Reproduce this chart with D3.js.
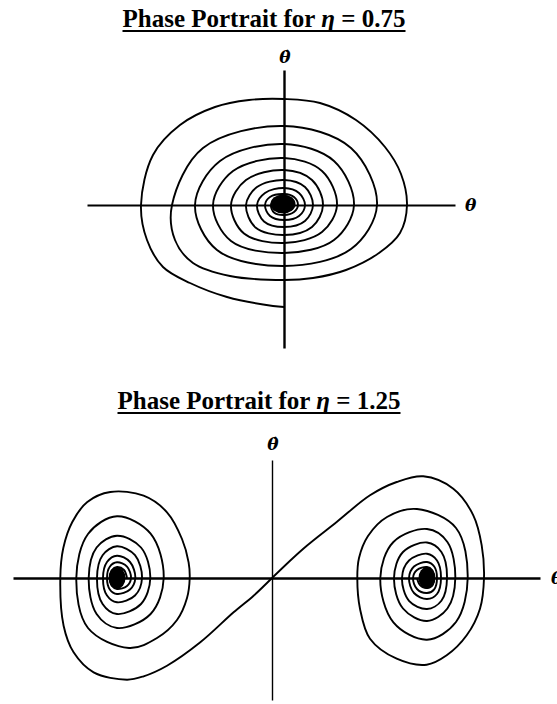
<!DOCTYPE html>
<html>
<head>
<meta charset="utf-8">
<script src="https://cdn.jsdelivr.net/npm/d3@7"></script>
<style>
  html, body { margin: 0; padding: 0; background: #fff; }
  svg { display: block; }
  .title { font-family: "Liberation Serif", "Times New Roman", serif; font-weight: bold; font-size: 25px; fill: #000; }
  .axlabel { font-family: "DejaVu Serif", serif; font-weight: bold; font-style: italic; font-size: 17px; fill: #000; }
</style>
</head>
<body>
<svg id="chart" width="557" height="704"></svg>
<script>
// Parameter value of each panel and axis symbols
const etaValues = ["0.75", "1.25"];
const thetaSymbol = "\u03B8";
const thetaDotSymbol = "\u03B8\u0307";

// Axis extents (theta, thetaDot) for each panel
const topAxisTheta = [-1.97, 1.71];
const topAxisThetaDot = [-1.43, 1.35];
const botAxisTheta = [-2.59, 2.68];
const botAxisThetaDot = [-1.22, 1.18];

// eta = 0.75 : one trajectory spiralling into the origin [theta, thetaDot]
const spiralEta075 = [
  [0,-1.02],[-0.11,-1.01],[-0.57,-0.92],[-0.94,-0.78],[-1.21,-0.62],[-1.37,-0.35],[-1.43,0],
  [-1.31,0.50],[-1.04,0.80],[-0.69,0.98],[-0.35,1.05],[0,1.06],
  [0.36,1.02],[0.72,0.85],[1.01,0.58],[1.17,0.31],[1.23,0],
  [1.16,-0.28],[0.95,-0.48],[0.62,-0.65],[0.29,-0.73],[0,-0.75],
  [-0.54,-0.71],[-0.91,-0.58],[-1.09,-0.35],[-1.12,0],
  [-0.81,0.57],[0,0.79],[0.67,0.57],[0.93,0],
  [0.67,-0.44],[0,-0.61],[-0.67,-0.45],[-0.89,0],
  [-0.64,0.44],[0,0.61],[0.50,0.44],[0.70,0],
  [0.50,-0.35],[0,-0.48],[-0.53,-0.36],[-0.71,0],
  [-0.51,0.34],[0,0.47],[0.38,0.34],[0.53,0],
  [0.38,-0.27],[0,-0.38],[-0.40,-0.285],[-0.53,0],
  [-0.38,0.25],[0,0.35],[0.28,0.25],[0.39,0],
  [0.28,-0.22],[0,-0.30],[-0.285,-0.225],[-0.38,0],
  [-0.27,0.18],[0,0.25],[0.21,0.18],[0.29,0],
  [0.21,-0.16],[0,-0.22],[-0.20,-0.165],[-0.27,0],
  [-0.19,0.12],[0,0.17],[0.15,0.12],[0.21,0],
  [0.15,-0.11],[0,-0.15],[-0.14,-0.11],[-0.19,0],
  [-0.14,0.08],[0,0.11],[0.10,0.08],[0.14,0],
  [0.10,-0.07],[0,-0.10],[-0.10,-0.075],[-0.13,0],
  [-0.09,0.05],[0,0.07],[0.065,0.05],[0.09,0]
];

// eta = 1.25 : branch leaving the saddle to the left and winding into the left focus
const spiralEta125Left = [
  [0,0],[-0.184,-0.177],[-0.384,-0.343],[-0.717,-0.643],[-1.05,-0.877],[-1.284,-0.983],
  [-1.45,-1.017],[-1.784,-0.943],[-1.984,-0.743],[-2.084,-0.477],[-2.117,0],
  [-2.087,0.30],[-1.997,0.56],[-1.847,0.76],[-1.617,0.86],[-1.284,0.823],
  [-1.05,0.657],[-0.90,0.39],[-0.834,0.157],[-0.823,0],
  [-0.85,-0.20],[-0.95,-0.42],[-1.15,-0.60],[-1.43,-0.70],
  [-1.84,-0.50],[-1.957,0],
  [-1.84,0.44],[-1.55,0.617],[-1.214,0.444],[-1.083,0],
  [-1.214,-0.36],[-1.55,-0.50],[-1.754,-0.36],[-1.833,0],
  [-1.754,0.305],[-1.55,0.423],[-1.31,0.305],[-1.217,0],
  [-1.31,-0.26],[-1.55,-0.36],[-1.694,-0.26],[-1.75,0],
  [-1.694,0.228],[-1.55,0.317],[-1.37,0.228],[-1.30,0],
  [-1.37,-0.175],[-1.55,-0.243],[-1.65,-0.175],[-1.69,0],
  [-1.65,0.16],[-1.55,0.223],[-1.42,0.16],[-1.367,0],
  [-1.42,-0.115],[-1.55,-0.16],[-1.622,-0.115],[-1.65,0],
  [-1.622,0.113],[-1.55,0.157],[-1.45,0.113],[-1.41,0],
  [-1.45,-0.08],[-1.55,-0.11],[-1.60,-0.08],[-1.62,0],
  [-1.60,0.08],[-1.55,0.11],[-1.48,0.08],[-1.45,0]
];

// eta = 1.25 : branch leaving the saddle to the right and winding into the right focus
const spiralEta125Right = [
  [0,0],[0.313,0.293],[0.647,0.56],[0.98,0.827],[1.247,0.96],[1.513,1.017],
  [1.813,0.893],[2.013,0.627],[2.097,0.327],[2.12,0],
  [2.08,-0.307],[1.947,-0.573],[1.747,-0.773],[1.547,-0.867],
  [1.247,-0.807],[0.98,-0.607],[0.88,-0.307],[0.853,0],
  [0.87,0.20],[0.96,0.42],[1.15,0.61],[1.45,0.69],
  [1.84,0.50],[1.957,0],
  [1.84,-0.44],[1.55,-0.617],[1.214,-0.444],[1.083,0],
  [1.214,0.36],[1.55,0.49],[1.754,0.36],[1.833,0],
  [1.754,-0.305],[1.55,-0.43],[1.31,-0.305],[1.22,0],
  [1.31,0.26],[1.55,0.355],[1.694,0.26],[1.75,0],
  [1.694,-0.228],[1.55,-0.31],[1.37,-0.228],[1.30,0],
  [1.37,0.175],[1.55,0.243],[1.65,0.175],[1.69,0],
  [1.65,-0.16],[1.55,-0.21],[1.42,-0.15],[1.37,0],
  [1.42,0.115],[1.55,0.16],[1.622,0.115],[1.65,0],
  [1.622,-0.113],[1.55,-0.15],[1.45,-0.11],[1.41,0],
  [1.45,0.08],[1.55,0.11],[1.60,0.08],[1.62,0],
  [1.60,-0.08],[1.55,-0.10],[1.48,-0.07],[1.45,0]
];

// Stable foci, drawn as solid dots [theta, thetaDot, halfWidth, halfHeight]
const fociEta075 = [[-0.01, 0.01, 0.125, 0.095]];
const fociEta125 = [[-1.55, 0, 0.085, 0.11], [1.55, 0, 0.085, 0.11]];

const svg = d3.select("#chart");

function panel(opts) {
  const g = svg.append("g");
  const x = d3.scaleLinear().domain([-1, 1]).range([opts.cx - 100, opts.cx + 100]);
  const y = d3.scaleLinear().domain([-1, 1]).range([opts.cy + 100, opts.cy - 100]);

  // axes: bare lines crossing at the origin
  const xa = x.copy().domain(opts.hExt).range(opts.hExt.map(x));
  const ya = y.copy().domain(opts.vExt).range(opts.vExt.map(y));
  g.append("g")
    .attr("transform", `translate(0,${y(0)})`)
    .call(d3.axisBottom(xa).tickValues([]).tickSizeOuter(0))
    .call(s => s.select(".domain").attr("stroke", "#000").attr("stroke-width", opts.hw));
  g.append("g")
    .attr("transform", `translate(${x(0)},0)`)
    .call(d3.axisLeft(ya).tickValues([]).tickSizeOuter(0))
    .call(s => s.select(".domain").attr("stroke", "#000").attr("stroke-width", opts.vw));

  const line = d3.line()
    .x(d => x(d[0])).y(d => y(d[1]))
    .curve(d3.curveCatmullRom.alpha(0.5));

  g.selectAll("path.traj")
    .data(opts.curves)
    .join("path")
    .attr("class", "traj")
    .attr("d", line)
    .attr("fill", "none")
    .attr("stroke", "#000")
    .attr("stroke-width", 1.9)
    .attr("stroke-linejoin", "round");

  g.selectAll("ellipse.focus")
    .data(opts.foci)
    .join("ellipse")
    .attr("class", "focus")
    .attr("cx", d => x(d[0]))
    .attr("cy", d => y(d[1]))
    .attr("rx", d => x(d[2]) - x(0))
    .attr("ry", d => y(0) - y(d[3]))
    .attr("fill", "#000");

  // axis labels
  g.append("text").attr("class", "axlabel")
    .attr("x", x(0) + opts.vLabelDx).attr("y", opts.vLabelY)
    .attr("text-anchor", "middle")
    .text(thetaDotSymbol);
  g.append("text").attr("class", "axlabel")
    .attr("x", xa.range()[1] + opts.hLabelGap).attr("y", y(0) + 6)
    .text(thetaSymbol);

  // underlined title
  const t = g.append("text").attr("class", "title")
    .attr("x", opts.titleX).attr("y", opts.titleY)
    .attr("text-anchor", "middle");
  t.append("tspan").text("Phase Portrait for ");
  t.append("tspan").attr("font-style", "italic").text("\u03B7");
  t.append("tspan").text(" = " + opts.eta);
  const bb = t.node().getBBox();
  g.append("line")
    .attr("x1", bb.x).attr("x2", bb.x + bb.width)
    .attr("y1", opts.titleY + 4).attr("y2", opts.titleY + 4)
    .attr("stroke", "#000").attr("stroke-width", 2);
}

panel({
  cx: 284, cy: 205,
  hExt: topAxisTheta, vExt: topAxisThetaDot, hw: 2, vw: 2.4,
  curves: [spiralEta075], foci: fociEta075,
  vLabelDx: 1, vLabelY: 63,
  hLabelGap: 10, eta: etaValues[0], titleX: 264, titleY: 27
});

panel({
  cx: 272, cy: 578,
  hExt: botAxisTheta, vExt: botAxisThetaDot, hw: 2.4, vw: 1.4,
  curves: [spiralEta125Left, spiralEta125Right], foci: fociEta125,
  vLabelDx: 1, vLabelY: 450,
  hLabelGap: 11, eta: etaValues[1], titleX: 259, titleY: 409
});
</script>
</body>
</html>
